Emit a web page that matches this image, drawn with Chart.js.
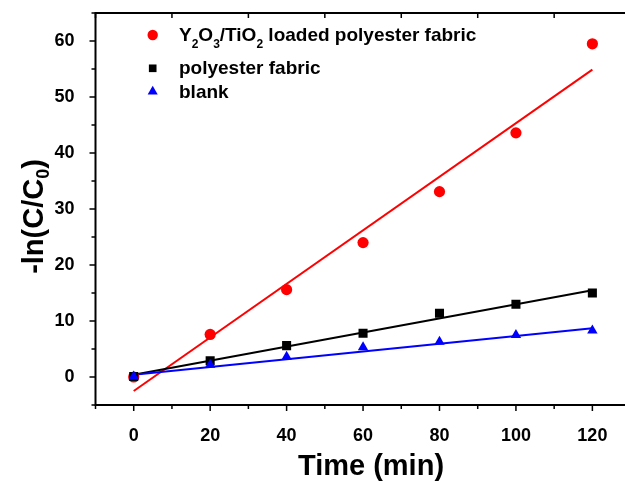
<!DOCTYPE html>
<html>
<head>
<meta charset="utf-8">
<script src="https://cdn.jsdelivr.net/npm/chart.js@4.4.1/dist/chart.umd.min.js"></script>
<style>
  html, body { margin: 0; padding: 0; background: #fff; overflow: hidden; }
  #wrap { width: 640px; height: 481px; }
</style>
</head>
<body>
<div id="wrap"><canvas id="kinetics" width="640" height="481"></canvas></div>
<script>
var timeMin = [0, 20, 40, 60, 80, 100, 120];
var loadedFabric = [0, 7.6, 15.6, 24.0, 33.1, 43.6, 59.5];
var plainFabric = [0.1, 2.9, 5.6, 7.8, 11.4, 13.0, 15.0];
var blank = [0.1, 2.2, 3.6, 5.3, 6.3, 7.5, 8.3];

// linear fits, values at both ends
var fitTime = [0, 120];
var loadedFit = [-2.5, 54.9];
var plainFit = [0.4, 15.5];
var blankFit = [0.4, 8.7];

var xTicks = [0, 20, 40, 60, 80, 100, 120];
var yTicks = [0, 10, 20, 30, 40, 50, 60];

function pairs(xs, ys) {
    return xs.map(function (x, i) { return { x: x, y: ys[i] }; });
}

var boldFont = '"Liberation Sans", Arial, sans-serif';

var frame = {
    id: 'frame',
    afterDraw: function (chart) {
        var ctx = chart.ctx;
        var a = chart.chartArea;
        var xs = chart.scales.x, ys = chart.scales.y;
        ctx.save();
        ctx.strokeStyle = '#000';
        ctx.lineWidth = 2;
        // right side of the box is cut off in the original
        ctx.beginPath();
        ctx.moveTo(a.right + 2, a.top);
        ctx.lineTo(a.left, a.top);
        ctx.lineTo(a.left, a.bottom);
        ctx.lineTo(a.right + 2, a.bottom);
        ctx.stroke();

        ctx.lineWidth = 1.5;
        ctx.beginPath();
        for (var v = -10; v <= 130; v += 10) {
            var px = xs.getPixelForValue(v);
            var major = v % 20 === 0;
            ctx.moveTo(px, a.bottom);
            ctx.lineTo(px, a.bottom + (major ? 6 : 4));
            if (!major) {
                ctx.moveTo(px, a.top);
                ctx.lineTo(px, a.top + 5);
            }
        }
        for (var w = -5; w <= 65; w += 5) {
            var py = ys.getPixelForValue(w);
            ctx.moveTo(a.left, py);
            ctx.lineTo(a.left - (w % 10 === 0 ? 6 : 4), py);
        }
        ctx.stroke();

        ctx.fillStyle = '#000';
        // x title
        ctx.font = 'bold 29px ' + boldFont;
        ctx.textAlign = 'center';
        ctx.textBaseline = 'alphabetic';
        ctx.fillText('Time (min)', 371, 475);

        // y title, rotated, with subscript
        ctx.save();
        ctx.translate(43, 216.5);
        ctx.rotate(-Math.PI / 2);
        ctx.textAlign = 'left';
        var main = '-ln(C/C', tail = ')';
        ctx.font = 'bold 29px ' + boldFont;
        var w1 = ctx.measureText(main).width, w3 = ctx.measureText(tail).width;
        ctx.font = 'bold 18px ' + boldFont;
        var w2 = ctx.measureText('0').width;
        var x0 = -(w1 + w2 + w3) / 2;
        ctx.font = 'bold 29px ' + boldFont;
        ctx.fillText(main, x0, 0);
        ctx.font = 'bold 18px ' + boldFont;
        ctx.fillText('0', x0 + w1, 6);
        ctx.font = 'bold 29px ' + boldFont;
        ctx.fillText(tail, x0 + w1 + w2, 0);
        ctx.restore();

        // legend
        var rows = [
            { color: '#ff0000', style: 'circle', r: 5.2, y: 35, base: 40.7,
              parts: [['Y', 0], ['2', 1], ['O', 0], ['3', 1], ['/TiO', 0], ['2', 1], [' loaded polyester fabric', 0]] },
            { color: '#000000', style: 'rect', r: 5.4, y: 68.3, base: 73.5,
              parts: [['polyester fabric', 0]] },
            { color: '#0000ff', style: 'triangle', r: 5.8, y: 91.5, base: 98.3,
              parts: [['blank', 0]] }
        ];
        rows.forEach(function (row) {
            ctx.fillStyle = row.color;
            ctx.strokeStyle = row.color;
            Chart.helpers.drawPoint(ctx, { pointStyle: row.style, radius: row.r, rotation: 0, borderWidth: 0 }, 152.7, row.y);
            ctx.fillStyle = '#000';
            ctx.textAlign = 'left';
            var tx = 179;
            row.parts.forEach(function (p) {
                ctx.font = p[1] ? 'bold 12px ' + boldFont : 'bold 19px ' + boldFont;
                ctx.fillText(p[0], tx, row.base + (p[1] ? 7 : 0));
                tx += ctx.measureText(p[0]).width;
            });
        });
        ctx.restore();
    }
};

var ctx = document.getElementById('kinetics').getContext('2d');
new Chart(ctx, {
    type: 'scatter',
    data: {
        datasets: [
            {
                label: 'blank',
                data: pairs(timeMin, blank),
                pointStyle: 'triangle',
                pointRadius: 6,
                backgroundColor: '#0000ff',
                borderColor: '#0000ff',
                borderWidth: 0,
                order: 0
            },
            {
                label: 'polyester fabric',
                data: pairs(timeMin, plainFabric),
                pointStyle: 'rect',
                pointRadius: 6.4,
                backgroundColor: '#000000',
                borderColor: '#000000',
                borderWidth: 0,
                order: 1
            },
            {
                label: 'Y2O3/TiO2 loaded polyester fabric',
                data: pairs(timeMin, loadedFabric),
                pointStyle: 'circle',
                pointRadius: 5.6,
                backgroundColor: '#ff0000',
                borderColor: '#ff0000',
                borderWidth: 0,
                order: 2
            },
            {
                data: pairs(fitTime, blankFit),
                showLine: true, pointRadius: 0,
                borderColor: '#0000ff', borderWidth: 2, order: 3
            },
            {
                data: pairs(fitTime, plainFit),
                showLine: true, pointRadius: 0,
                borderColor: '#000000', borderWidth: 2, order: 4
            },
            {
                data: pairs(fitTime, loadedFit),
                showLine: true, pointRadius: 0,
                borderColor: '#ff0000', borderWidth: 2, order: 5
            }
        ]
    },
    options: {
        responsive: false,
        animation: false,
        devicePixelRatio: 1,
        layout: { padding: { top: 13, right: 9.4, left: 0, bottom: 0 } },
        scales: {
            x: {
                type: 'linear',
                min: -10,
                max: 130,
                afterBuildTicks: function (s) { s.ticks = xTicks.map(function (v) { return { value: v }; }); },
                afterFit: function (s) {
                    s.height = 76;
                    s.paddingLeft = 0;
                    s.paddingRight = 0;
                },
                grid: { display: false },
                border: { display: false },
                ticks: {
                    color: '#000',
                    padding: 12,
                    maxRotation: 0,
                    font: { family: boldFont, size: 18, weight: 'bold' }
                }
            },
            y: {
                type: 'linear',
                min: -5,
                max: 65,
                afterBuildTicks: function (s) { s.ticks = yTicks.map(function (v) { return { value: v }; }); },
                afterFit: function (s) {
                    s.width = 95.5;
                    s.paddingTop = 0;
                    s.paddingBottom = 0;
                },
                grid: { display: false },
                border: { display: false },
                ticks: {
                    color: '#000',
                    padding: 13,
                    font: { family: boldFont, size: 18, weight: 'bold' }
                }
            }
        },
        plugins: {
            legend: { display: false },
            tooltip: { enabled: false }
        }
    },
    plugins: [frame]
});
</script>
</body>
</html>
